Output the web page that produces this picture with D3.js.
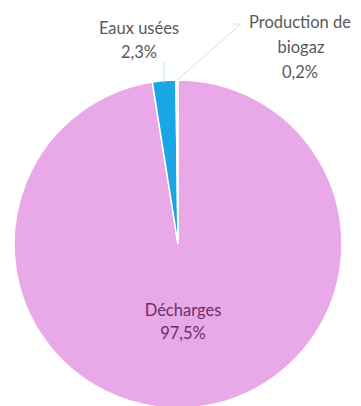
<!DOCTYPE html>
<html><head><meta charset="utf-8">
<script src="https://cdn.jsdelivr.net/npm/d3@7"></script>
<style>body{margin:0;background:#fff}svg{display:block}</style>
</head><body>
<svg id="c" width="361" height="406"></svg>
<script>
const categories = ["Décharges", "Eaux usées", "Production de biogaz"];
const values = [97.5, 2.3, 0.2];
const valueLabels = ["97,5%", "2,3%", "0,2%"];
const colors = ["#E9A9E9", "#1AA6E4", "#FBE7D0"];

const svg = d3.select("#c");
const cx = 178, cy = 244, r = 164;
const g = svg.append("g").attr("transform", `translate(${cx},${cy})`);
const pie = d3.pie().sort(null).value(d => d)(values);
const arc = d3.arc().innerRadius(0).outerRadius(r);
g.selectAll("path").data(pie).enter().append("path")
  .attr("d", arc).attr("fill", (d, i) => colors[i])
  .attr("stroke", "#fff").attr("stroke-width", 1.5);

const font = "Lato, 'Open Sans', sans-serif";
const fs = 16.5;
// Inside label
const t0 = svg.append("text").attr("y", 316)
  .attr("text-anchor", "middle").attr("font-family", font).attr("font-size", fs)
  .attr("fill", "#6A2F6A");
t0.append("tspan").attr("x", 183).attr("dy", 0).text(categories[0]);
t0.append("tspan").attr("x", 183).attr("dy", 23).text(valueLabels[0]);

// Leader lines
const mid1 = (pie[1].startAngle + pie[1].endAngle) / 2;
const p1 = [r * Math.sin(mid1) + cx, -r * Math.cos(mid1) + cy];
svg.append("polyline").attr("points", `${p1[0]},${p1[1]+2} ${p1[0]},62`)
  .attr("fill", "none").attr("stroke", "#BFE3F4").attr("stroke-width", 1);
const mid2 = (pie[2].startAngle + pie[2].endAngle) / 2;
const p2 = [r * Math.sin(mid2) + cx, -r * Math.cos(mid2) + cy];
svg.append("polyline").attr("points", `${p2[0]},${p2[1]} 241,24 233,24`)
  .attr("fill", "none").attr("stroke", "#F3D9C6").attr("stroke-width", 1);

// Outside labels
const t1 = svg.append("text").attr("text-anchor", "middle").attr("font-family", font)
  .attr("font-size", fs).attr("fill", "#595959").attr("y", 34);
t1.append("tspan").attr("x", 139).attr("dy", 0).text(categories[1]);
t1.append("tspan").attr("x", 139).attr("dy", 24).text(valueLabels[1]);

const t2 = svg.append("text").attr("text-anchor", "middle").attr("font-family", font)
  .attr("font-size", fs).attr("fill", "#595959").attr("y", 28);
t2.append("tspan").attr("x", 300).attr("dy", 0).text("Production de");
t2.append("tspan").attr("x", 301).attr("dy", 25).text("biogaz");
t2.append("tspan").attr("x", 300).attr("dy", 25).text(valueLabels[2]);
</script>
</body></html>
